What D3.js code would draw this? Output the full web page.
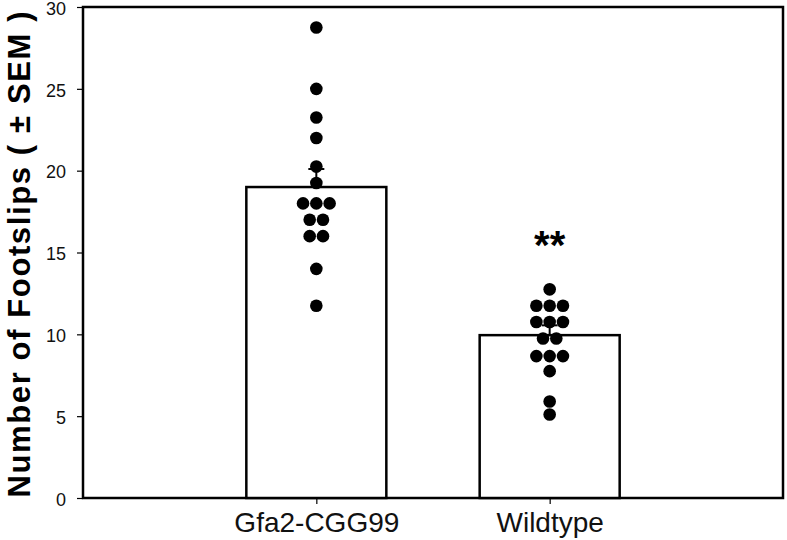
<!DOCTYPE html>
<html>
<head>
<meta charset="utf-8">
<script src="https://cdn.jsdelivr.net/npm/d3@7"></script>
<style>
  body { margin: 0; background: #fff; }
  text { font-family: "Liberation Sans", Arial, sans-serif; }
</style>
</head>
<body>
<div id="chartContainer"></div>
<script>
// data
var groups = ["Gfa2-CGG99", "Wildtype"]
var means = [19.0, 9.95]
var sems = [1.1, 0.6]
var gfaPoints = [28.75, 25, 23.25, 22, 20.25, 19.25, 18, 18, 18, 17, 17, 16, 16, 14, 11.75]
var wtPoints = [12.75, 11.75, 11.75, 11.75, 10.75, 10.75, 10.75, 9.75, 9.75, 8.67, 8.67, 8.67, 7.75, 5.9, 5.1]
var yTicks = [0, 5, 10, 15, 20, 25, 30]
var signif = ["", "**"]

var margin = {top: 7, right: 4, bottom: 42, left: 83},
  width = 787 - margin.left - margin.right,
  height = 540 - margin.top - margin.bottom;

var svg = d3.select("#chartContainer")
  .append("svg")
  .attr("width", 787)
  .attr("height", 540)
  .append("g")
  .attr("transform", "translate(" + margin.left + "," + margin.top + ")");

var x = d3.scalePoint()
  .domain(groups)
  .range([0, width])
  .padding(1);

var y = d3.scaleLinear()
  .domain([0, 30])
  .range([height, 0]);

var barWidth = x.step() * 0.6;

// frame
svg.append("rect")
  .attr("x", 0).attr("y", 0)
  .attr("width", width).attr("height", height)
  .attr("fill", "none")
  .attr("stroke", "#000")
  .attr("stroke-width", 2.5);

// bars
var barData = groups.map((g, i) => ({group: g, mean: means[i], sem: sems[i], mark: signif[i]}))

svg.selectAll(".bar")
  .data(barData)
  .enter()
  .append("rect")
  .attr("class", "bar")
  .attr("x", d => x(d.group) - barWidth / 2)
  .attr("y", d => y(d.mean))
  .attr("width", barWidth)
  .attr("height", d => y(0) - y(d.mean))
  .attr("fill", "#fff")
  .attr("stroke", "#000")
  .attr("stroke-width", 2.5);

// upper error bars
svg.selectAll(".err")
  .data(barData)
  .enter()
  .append("line")
  .attr("x1", d => x(d.group)).attr("x2", d => x(d.group))
  .attr("y1", d => y(d.mean)).attr("y2", d => y(d.mean + d.sem))
  .attr("stroke", "#000").attr("stroke-width", 2);

svg.selectAll(".cap")
  .data(barData)
  .enter()
  .append("line")
  .attr("x1", d => x(d.group) - 8).attr("x2", d => x(d.group) + 8)
  .attr("y1", d => y(d.mean + d.sem)).attr("y2", d => y(d.mean + d.sem))
  .attr("stroke", "#000").attr("stroke-width", 2);

// points, spread sideways when values tie
function spread(group, values){
  var counts = d3.rollup(values, v => v.length, d => d)
  var seen = new Map()
  return values.map(v => {
    var n = counts.get(v), k = seen.get(v) || 0
    seen.set(v, k + 1)
    return {group: group, value: v, off: (k - (n - 1) / 2) * 13.3}
  })
}
var points = spread(groups[0], gfaPoints).concat(spread(groups[1], wtPoints))

svg.selectAll(".dot")
  .data(points)
  .enter()
  .append("circle")
  .attr("cx", d => x(d.group) + d.off)
  .attr("cy", d => y(d.value))
  .attr("r", 6.3)
  .attr("fill", "#000");

// significance marks
svg.selectAll(".sig")
  .data(barData)
  .enter()
  .append("text")
  .attr("x", d => x(d.group))
  .attr("y", 259 - margin.top)
  .attr("text-anchor", "middle")
  .style("font-size", "40px")
  .style("font-weight", "bold")
  .text(d => d.mark);

// y axis
var yAxis = svg.append("g")
  .call(d3.axisLeft(y).tickValues(yTicks).tickSize(6).tickPadding(11))
yAxis.select(".domain").remove()
yAxis.selectAll("line").attr("stroke", "#000").attr("stroke-width", 1.2)
yAxis.selectAll("text").style("font-size", "18px").attr("fill", "#111").attr("dy", "0.4em")

// x axis
var xAxis = svg.append("g")
  .attr("transform", "translate(0," + height + ")")
  .call(d3.axisBottom(x).tickSize(6).tickPadding(8))
xAxis.select(".domain").remove()
xAxis.selectAll("line").attr("stroke", "#000").attr("stroke-width", 1.2)
xAxis.selectAll("text").style("font-size", "28px").attr("fill", "#111")

// y title
svg.append("text")
  .attr("transform", "translate(" + (-53) + "," + (height / 2 + 2) + ") rotate(-90)")
  .attr("text-anchor", "middle")
  .attr("textLength", 486)
  .attr("lengthAdjust", "spacing")
  .style("font-size", "31px")
  .style("font-weight", "bold")
  .text("Number of Footslips ( ± SEM )");
</script>
</body>
</html>
